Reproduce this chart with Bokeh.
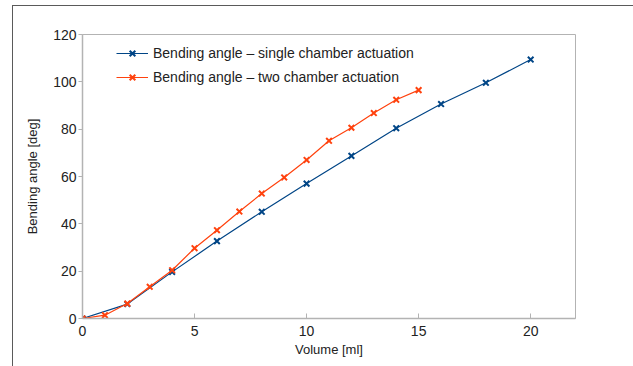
from bokeh.plotting import figure
from bokeh.models import Range1d, Legend, LegendItem, FixedTicker, InlineStyleSheet
from bokeh.embed import file_html
from bokeh.resources import INLINE

# Data
vol_single = [0, 2, 4, 6, 8, 10, 12, 14, 16, 18, 20]
angle_single = [0, 6.1, 19.7, 32.7, 45.1, 57.0, 68.7, 80.4, 90.6, 99.6, 109.4]
vol_two = [0, 1, 2, 3, 4, 5, 6, 7, 8, 9, 10, 11, 12, 13, 14, 15]
angle_two = [0, 1.4, 6.3, 13.4, 20.4, 29.7, 37.3, 45.2, 52.8, 59.6, 67.0, 75.1, 80.6, 86.8, 92.4, 96.5]
x_ticks = [0, 5, 10, 15, 20]
y_ticks = [0, 20, 40, 60, 80, 100, 120]
label_single = "Bending angle – single chamber actuation"
label_two = "Bending angle – two chamber actuation"

BLUE = "#004586"
ORANGE = "#ff420e"
FONT = "Liberation Sans"

p = figure(width=633, height=366, output_backend="svg", toolbar_location=None,
           x_range=Range1d(0, 22), y_range=Range1d(0, 120),
           min_border_left=82, min_border_right=58, min_border_top=34, min_border_bottom=48)
p.background_fill_color = "white"
p.border_fill_color = "white"
p.outline_line_color = "#b3b3b3"
p.outline_line_width = 1
p.xgrid.visible = False
p.ygrid.visible = False

for ax in (p.xaxis[0], p.yaxis[0]):
    ax.axis_line_color = "#b3b3b3"
    ax.axis_line_width = 1.5
    ax.major_tick_line_color = "#b3b3b3"
    ax.minor_tick_line_color = None
    ax.major_label_text_font = FONT
    ax.major_label_text_font_size = "14px"
    ax.major_label_text_color = "#222222"
    ax.axis_label_text_font = FONT
    ax.axis_label_text_font_size = "13px"
    ax.axis_label_text_font_style = "normal"
    ax.axis_label_text_color = "#222222"

p.xaxis.ticker = FixedTicker(ticks=x_ticks)
p.yaxis.ticker = FixedTicker(ticks=y_ticks)
p.xaxis.major_tick_in = 5
p.xaxis.major_tick_out = 0
p.xaxis.major_label_standoff = 7
p.xaxis.axis_label = "Volume [ml]"
p.xaxis.axis_label_standoff = 3
p.yaxis.major_tick_in = 0
p.yaxis.major_tick_out = 4
p.yaxis.major_label_standoff = 2
p.yaxis.axis_label = "Bending angle [deg]"
p.yaxis.axis_label_standoff = 10

l1 = p.line(vol_single, angle_single, color=BLUE, line_width=1.2)
m1 = p.scatter(vol_single, angle_single, marker="x", size=8, line_color=BLUE, line_width=2)
l2 = p.line(vol_two, angle_two, color=ORANGE, line_width=1.2)
m2 = p.scatter(vol_two, angle_two, marker="x", size=8, line_color=ORANGE, line_width=2)

legend = Legend(items=[LegendItem(label=label_single, renderers=[l1, m1]),
                       LegendItem(label=label_two, renderers=[l2, m2])],
                location=(34, 231), padding=6, spacing=4, margin=0,
                glyph_width=32, glyph_height=20, label_height=20, label_standoff=5,
                label_text_font=FONT, label_text_font_size="14px", label_text_color="#222222",
                background_fill_alpha=0, border_line_color=None)
p.add_layout(legend)

# outer frame decoration (top and left border of the surrounding box)
p.stylesheets = [InlineStyleSheet(css="""
:host { position: relative; }
:host::after { content: ''; position: absolute; left: 12px; top: 5px; right: -20px; bottom: -20px;
  border-top: 1.5px solid #5a5a5a; border-left: 1.5px solid #5a5a5a; pointer-events: none; z-index: 10; }
""")]

open("out.html", "w").write(file_html(p, INLINE))
